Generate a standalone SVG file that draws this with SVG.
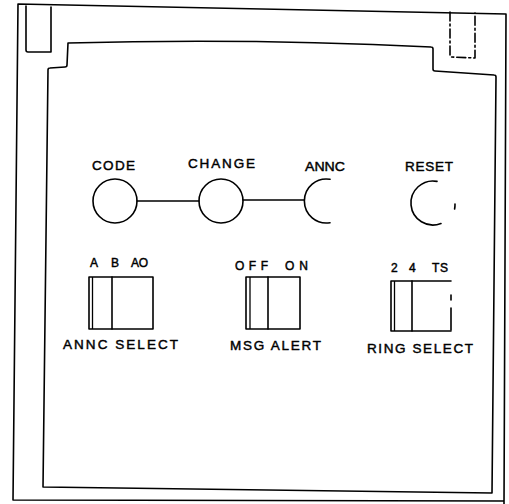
<svg xmlns="http://www.w3.org/2000/svg" width="509" height="504" viewBox="0 0 509 504">
<style>
.ln{fill:none;stroke:#000;stroke-width:1.6;stroke-linejoin:round;stroke-linecap:round}
.th{fill:none;stroke:#000;stroke-width:1.3}
.lb{font-family:"Liberation Sans",Arial,sans-serif;font-size:13.5px;fill:#000;stroke:#000;stroke-width:0.45}
.sm{font-family:"Liberation Sans",Arial,sans-serif;font-size:12px;fill:#000;stroke:#000;stroke-width:0.45}
</style>
<rect width="509" height="504" fill="#fff"/>
<g id="frame">
<path class="ln" d="M18,4 L506,14 L504,504 M18,4 L13,500 L503,501"/>
<path class="ln" d="M26,6 L26,50 Q26,52 28,52 L51,52 L51,7"/>
<path class="ln" stroke-dasharray="9,3,2,3" d="M450,12 L450,56 Q450,57 452,57 L475,58 L475,13"/>
<path class="ln" d="M68,43 Q250,38 431,47 Q433,47 433,49 L433,69 Q433,71 435,71 L494,75 Q496,75 496,77 L492,493 L43,487 L48,70 Q48,68 50,68 L65,67 Q67,67 67,65 Z"/>
</g>
<g id="connectors">
<line class="ln" x1="137" y1="201" x2="199" y2="201"/>
<line class="ln" x1="243" y1="200" x2="304" y2="200"/>
</g>
<g id="code">
<circle class="ln" cx="115" cy="201" r="22"/>
<text class="lb" x="92" y="170" textLength="43" lengthAdjust="spacing">CODE</text>
</g>
<g id="change">
<circle class="ln" cx="221" cy="201" r="22"/>
<text class="lb" x="188" y="168" textLength="67" lengthAdjust="spacing">CHANGE</text>
</g>
<g id="annc">
<path class="ln" d="M330,179.3 A22,22 0 1 0 330,222.7"/>
<text class="lb" x="305" y="171" textLength="40" lengthAdjust="spacingAndGlyphs">ANNC</text>
</g>
<g id="reset">
<path class="ln" d="M437,181.4 A22,22 0 1 0 441,223.5"/>
<path class="ln" d="M454.6,209 A22,22 0 0 0 455,204"/>
<text class="lb" x="405" y="171" textLength="48" lengthAdjust="spacing">RESET</text>
</g>
<g id="annc-select">
<rect class="ln" x="89" y="277" width="64" height="52"/>
<line class="th" x1="92.5" y1="277" x2="92.5" y2="329"/>
<line class="ln" x1="112" y1="277" x2="112" y2="329"/>
<text class="sm" x="90" y="267">A</text>
<text class="sm" x="111" y="267">B</text>
<text class="sm" x="131" y="267" textLength="17" lengthAdjust="spacing">AO</text>
<text class="lb" x="63" y="349" textLength="115" lengthAdjust="spacing">ANNC SELECT</text>
</g>
<g id="msg-alert">
<rect class="ln" x="246" y="277" width="54" height="52"/>
<line class="th" x1="250" y1="277" x2="250" y2="329"/>
<line class="ln" x1="268" y1="277" x2="268" y2="329"/>
<text class="sm" x="235" y="270" textLength="33" lengthAdjust="spacing">OFF</text>
<text class="sm" x="285" y="270" textLength="23" lengthAdjust="spacing">ON</text>
<text class="lb" x="230" y="350" textLength="91" lengthAdjust="spacing">MSG ALERT</text>
</g>
<g id="ring-select">
<path class="ln" d="M451,281 L391,281 L391,331 L451,331"/>
<path class="ln" d="M451,295 L451,300 M451,308 L451,330"/>
<line class="th" x1="394.5" y1="281" x2="394.5" y2="331"/>
<line class="ln" x1="412" y1="281" x2="412" y2="331"/>
<text class="sm" x="391" y="272">2</text>
<text class="sm" x="409" y="272">4</text>
<text class="sm" x="432" y="272" textLength="16" lengthAdjust="spacing">TS</text>
<text class="lb" x="367" y="353" textLength="106" lengthAdjust="spacing">RING SELECT</text>
</g>
</svg>
